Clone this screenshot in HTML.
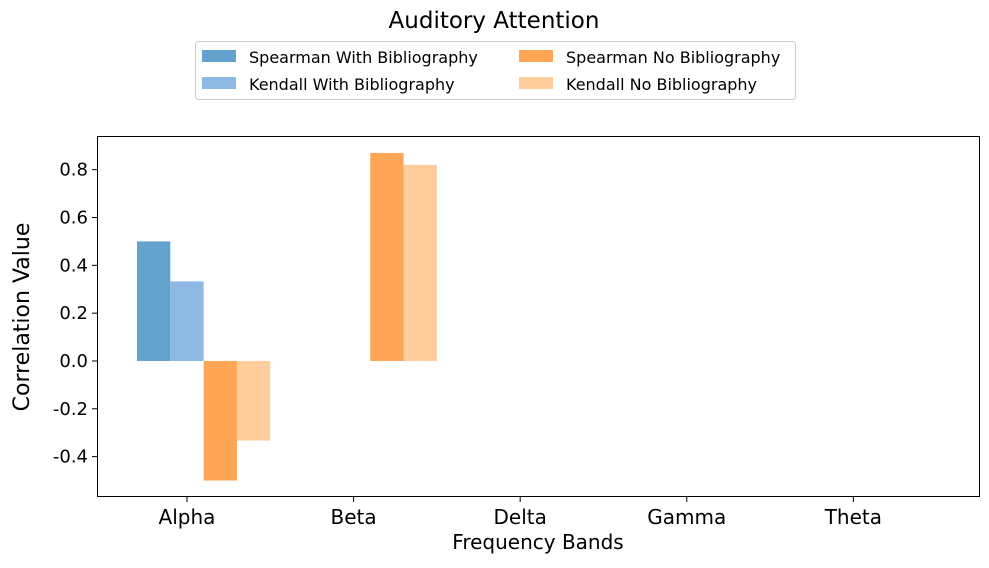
<!DOCTYPE html>
<html><head><meta charset="utf-8"><style>
body{margin:0;background:#fff;font-family:"Liberation Sans","DejaVu Sans",sans-serif;}
svg text{font-family:"DejaVu Sans","Liberation Sans",sans-serif;fill:#000;}
</style></head><body>
<svg id="chart" width="989" height="563">
<text x="494" y="28" text-anchor="middle" font-size="23">Auditory Attention</text>
<g>
<rect x="195.5" y="41.5" width="600" height="58" rx="3" fill="#fff" stroke="#ccc"/>
<rect x="202" y="50" width="34" height="12" fill="#62a2cc"/>
<text x="249" y="63" font-size="16">Spearman With Bibliography</text>
<rect x="202" y="77" width="34" height="12" fill="#8db9e2"/>
<text x="249" y="90" font-size="16">Kendall With Bibliography</text>
<rect x="519" y="50" width="34" height="12" fill="#ffa556"/>
<text x="566" y="63" font-size="16">Spearman No Bibliography</text>
<rect x="519" y="77" width="34" height="12" fill="#ffcc9c"/>
<text x="566" y="90" font-size="16">Kendall No Bibliography</text>
</g>
<g id="bars"></g>
<g id="axes"></g>
<text x="538" y="549" text-anchor="middle" font-size="20">Frequency Bands</text>
<text transform="translate(29,317) rotate(-90)" text-anchor="middle" font-size="22">Correlation Value</text>
</svg>
<script>
const categories=["Alpha","Beta","Delta","Gamma","Theta"];
const spearmanWith=[0.5,null,null,null,null];
const kendallWith=[0.333,null,null,null,null];
const spearmanNo=[-0.5,0.87,null,null,null];
const kendallNo=[-0.333,0.82,null,null,null];
const yTicks=[-0.4,-0.2,0.0,0.2,0.4,0.6,0.8];
const L=97,R=980,T=136,B=497;
const xMin=-0.54,xMax=4.76,yMin=-0.569,yMax=0.941;
const xs=v=>L+(v-xMin)/(xMax-xMin)*(R-L);
const ys=v=>B-(v-yMin)/(yMax-yMin)*(B-T);
const NS="http://www.w3.org/2000/svg";
const bars=document.getElementById('bars'),axes=document.getElementById('axes');
const series=[[spearmanWith,"#62a2cc",-1,"spearman-with"],[kendallWith,"#8db9e2",0,"kendall-with"],[spearmanNo,"#ffa556",1,"spearman-no"],[kendallNo,"#ffcc9c",2,"kendall-no"]];
const w=0.2;
series.forEach(([vals,col,off,nm])=>{vals.forEach((v,i)=>{if(v==null)return;
const r=document.createElementNS(NS,'rect');
const x0=xs(i+off*w-w/2),x1=xs(i+off*w+w/2);
r.setAttribute('x',x0);r.setAttribute('width',x1-x0);
r.setAttribute('y',Math.min(ys(v),ys(0)));r.setAttribute('height',Math.abs(ys(v)-ys(0)));
r.setAttribute('fill',col);


bars.appendChild(r);});});
const frame=document.createElementNS(NS,'rect');
frame.setAttribute('x',L+0.5);frame.setAttribute('y',T+0.5);frame.setAttribute('width',R-L-1);frame.setAttribute('height',B-T-1);
frame.setAttribute('fill','none');frame.setAttribute('stroke','#000');


axes.appendChild(frame);
yTicks.forEach(t=>{const y=ys(t);
const l=document.createElementNS(NS,'line');l.setAttribute('x1',L-5);l.setAttribute('x2',L);l.setAttribute('y1',y);l.setAttribute('y2',y);l.setAttribute('stroke','#000');


axes.appendChild(l);
const tx=document.createElementNS(NS,'text');tx.setAttribute('x',L-9);tx.setAttribute('y',y+6);tx.setAttribute('text-anchor','end');tx.setAttribute('font-size','18');
tx.textContent=t.toFixed(1);


axes.appendChild(tx);});
categories.forEach((c,i)=>{const x=xs(i);
const l=document.createElementNS(NS,'line');l.setAttribute('x1',x);l.setAttribute('x2',x);l.setAttribute('y1',B);l.setAttribute('y2',B+5);l.setAttribute('stroke','#000');


axes.appendChild(l);
const tx=document.createElementNS(NS,'text');tx.setAttribute('x',x);tx.setAttribute('y',B+27);tx.setAttribute('text-anchor','middle');tx.setAttribute('font-size','20');
tx.textContent=c;


axes.appendChild(tx);});
</script>
</body></html>
